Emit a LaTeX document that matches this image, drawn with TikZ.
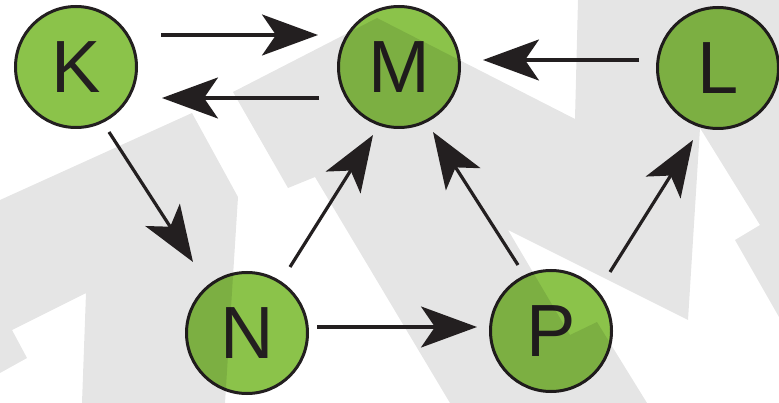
\documentclass[tikz,border=0pt]{standalone}
\usepackage{fontspec}
\setmainfont{Liberation Sans}
\usetikzlibrary{arrows.meta,calc}
\definecolor{leaf}{RGB}{139,195,74}
\definecolor{ink}{RGB}{35,31,32}
\tikzset{
  ball/.style={circle, draw=ink, line width=3pt, fill=leaf, minimum size=121pt,
    inner sep=0pt, text=ink, font=\fontsize{74}{74}\selectfont},
  conn/.style={ink, line width=3.2pt,
    -{Stealth[length=56pt,width=41pt,inset=14pt]}},
  shade/.style={fill=black, opacity=0.1}
}
\begin{document}
\begin{tikzpicture}[x=1pt,y=-1pt]
\useasboundingbox (0,0) rectangle (779,403);
\fill[white] (0,0) rectangle (779,403);

% nodes
\node[ball] (K) at (76,67) {K};
\node[ball] (M) at (399,67) {M};
\node[ball] (L) at (718,68) {L};
\node[ball] (N) at (247,333) {N};
\node[ball] (P) at (551,331) {P};

% light grey zigzag band laid over the whole figure
\fill[shade]
  (0,200) -- (192,113) -- (238,197) -- (225,403) -- (82,403) -- (86,293)
  -- (12,330) -- (27,358) -- (0,373) -- cycle
  (233,92) -- (377,18) -- (575,119) -- (578,0) -- (779,0) -- (779,317)
  -- (735,240) -- (760,225) -- (700,128) -- (688,320) -- (508,230)
  -- (570,335) -- (597,322) -- (647,403) -- (450,403) -- (315,177)
  -- (288,188) -- cycle;

% connectors
\draw[conn] ($(K)+(85,-32)$) -- ($(M)+(-81,-32)$);
\draw[conn] ($(M)+(-80,31)$) -- ($(K)+(86,31)$);
\draw[conn] ($(L)+(-79,-8)$) -- ($(M)+(84,-7)$);
\draw[conn] ($(K)+(33,65)$) -- ($(N)+(-54,-71)$);
\draw[conn] ($(N)+(43,-66)$) -- ($(M)+(-26,68)$);
\draw[conn] ($(N)+(70,-6)$) -- ($(P)+(-74,-4)$);
\draw[conn] ($(P)+(-33,-66)$) -- ($(M)+(34,65)$);
\draw[conn] ($(P)+(59,-59)$) -- ($(L)+(-25,72)$);
\end{tikzpicture}
\end{document}
